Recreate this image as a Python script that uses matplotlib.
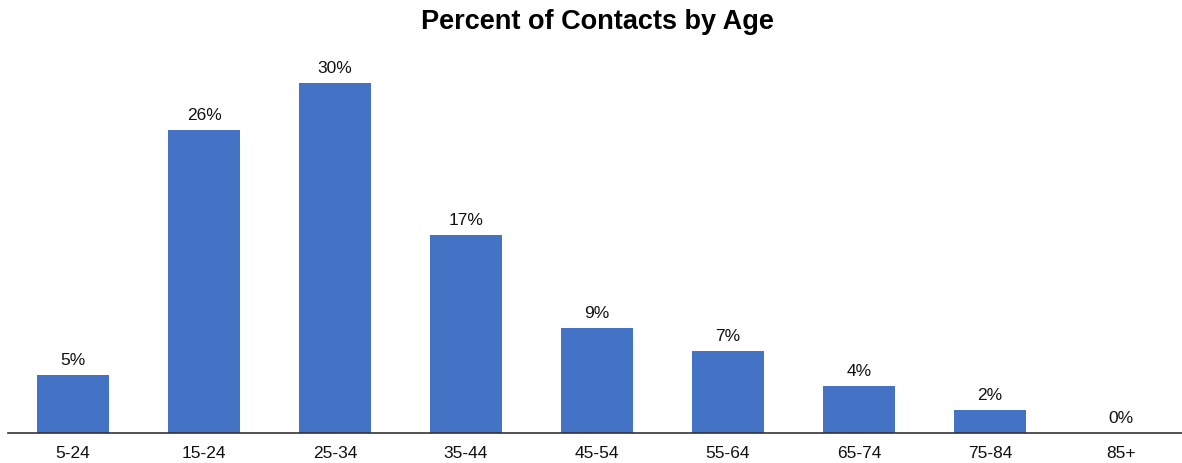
import matplotlib.pyplot as plt

plt.rcParams['font.family'] = ['Liberation Sans', 'DejaVu Sans']

# Data
age_groups = ['5-24', '15-24', '25-34', '35-44', '45-54', '55-64', '65-74', '75-84', '85+']
percents = [5, 26, 30, 17, 9, 7, 4, 2, 0]

W, H = 1182, 463
fig = plt.figure(figsize=(W / 100, H / 100), dpi=100)
# axes placed so slots line up with the reference (runs slightly off the right edge)
ax = fig.add_axes([7.5 / W, 30 / H, 1179 / W, (433 - 59.6) / H])

x = range(len(age_groups))
bars = ax.bar(x, percents, width=0.55, color='#4472C4')

for xi, p in zip(x, percents):
    ax.text(xi, p + 0.6, f'{p}%', ha='center', va='bottom', fontsize=12.5, color='#111111')

ax.set_xlim(-0.5, len(age_groups) - 0.5)
ax.set_ylim(0, 32)
ax.set_xticks(list(x))
ax.set_xticklabels(age_groups, fontsize=12.5, color='#111111')
ax.tick_params(axis='x', length=0, pad=9)
ax.set_yticks([])
for side in ['top', 'right', 'left']:
    ax.spines[side].set_visible(False)
ax.spines['bottom'].set_color('#333333')
ax.spines['bottom'].set_linewidth(1.2)

fig.text(597 / W, 1 - 22 / H, 'Percent of Contacts by Age', ha='center', va='center',
         fontsize=19.5, fontweight='bold')

fig.savefig('out.png', dpi=100)
